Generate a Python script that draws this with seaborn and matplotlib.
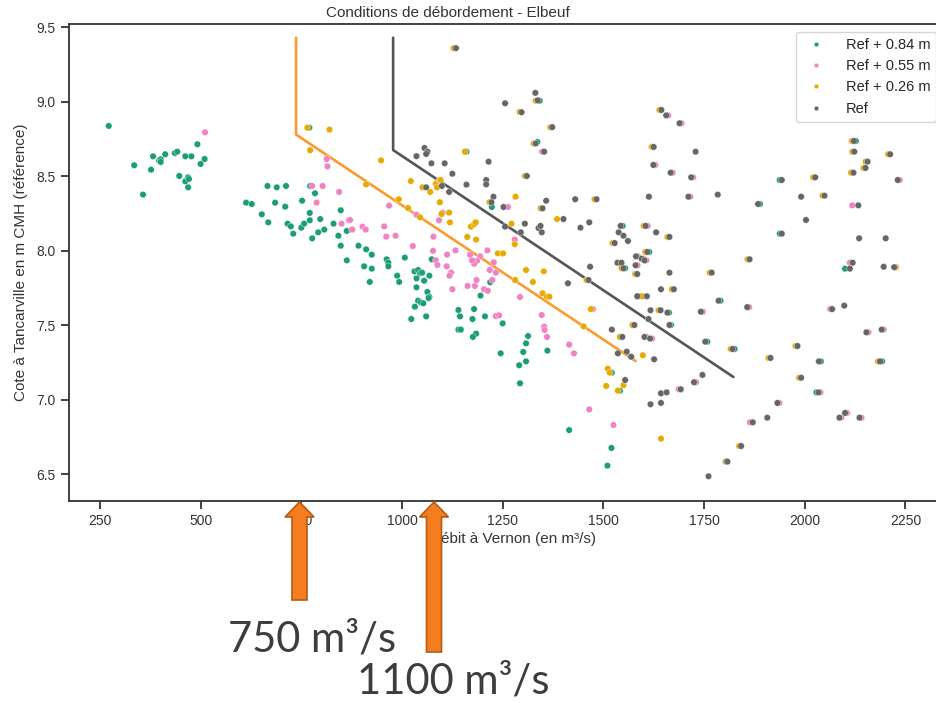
import matplotlib
matplotlib.use("Agg")
import matplotlib.pyplot as plt
from matplotlib.patches import Polygon
import numpy as np
import pandas as pd
import seaborn as sns

# ---------------- data ----------------
series_labels = ["Ref + 0.84 m", "Ref + 0.55 m", "Ref + 0.26 m", "Ref"]
series_colors = ["#1b9e77", "#f081c2", "#e6ab02", "#666666"]

q_ref = [1134, 1256, 1337, 1331, 1297, 1373, 1332, 1353, 1056, 1063, 1060, 1036, 1073, 1106, 1215,
         1125, 1310, 1060, 1099, 1117, 1209, 1209, 1160, 1227, 1222, 1252, 1358, 1349, 1430, 1483,
         1401, 1443, 1465, 1305, 1256, 1295, 1339, 1344, 1347, 1412, 1467, 1463, 1535, 1545, 1550,
         1584, 1580, 1581, 1595, 1602, 1609, 1664, 1643, 1675, 1584, 1608, 1617, 1642, 1659, 1612,
         1664, 1577, 1521, 1547, 1602, 1616, 1558, 1569, 1536, 1626, 1554, 1643, 1657, 1617, 1643,
         1692, 1725, 1746, 1753, 1742, 1786, 1806, 1761, 1769, 1863, 1644, 1656, 1689, 1625, 1729,
         1624, 1667, 1718, 1613, 1711, 1784, 1884, 1943, 2026, 1991, 2049, 2003, 1943, 2122, 2123,
         2156, 2151, 2121, 2212, 2231, 2133, 2135, 2201, 2119, 2112, 2196, 2222, 1543, 1538, 1550,
         1528, 1561, 1605, 1631, 1664, 1857, 2068, 2098, 2153, 2191, 1821, 1982, 1915, 2035, 2187,
         1991, 2034, 1932, 1871, 1907, 2086, 2100, 2136, 1842, 1808]
h_ref = [9.36, 8.99, 9.01, 9.06, 8.93, 8.83, 8.72, 8.665, 8.69, 8.665, 8.65, 8.635, 8.587, 8.587, 8.598,
         8.517, 8.502, 8.426, 8.435, 8.395, 8.475, 8.446, 8.444, 8.363, 8.326, 8.294, 8.336, 8.285, 8.346, 8.346,
         8.213, 8.155, 8.191, 8.182, 8.162, 8.124, 8.153, 8.167, 8.124, 7.782, 7.893, 7.804, 7.920, 7.920, 7.883,
         7.844, 7.903, 7.963, 7.947, 7.936, 7.992, 7.853, 7.742, 7.742, 7.695, 7.695, 7.601, 7.601, 7.585, 7.542,
         7.502, 7.502, 7.471, 7.422, 7.422, 7.411, 7.323, 7.289, 7.312, 7.272, 7.133, 7.044, 7.050, 6.970, 6.979,
         7.071, 7.118, 7.167, 7.390, 7.591, 7.665, 6.587, 6.487, 7.853, 7.943, 8.945, 8.909, 8.856, 8.697, 8.665,
         8.576, 8.524, 8.493, 8.363, 8.363, 8.377, 8.314, 8.475, 8.493, 8.363, 8.370, 8.207, 8.115, 8.737, 8.665,
         8.598, 8.556, 8.524, 8.648, 8.475, 8.305, 8.084, 8.084, 7.920, 7.880, 7.893, 7.890, 8.167, 8.124, 8.101,
         8.052, 8.066, 8.167, 8.124, 8.093, 7.622, 7.609, 7.632, 7.453, 7.471, 7.341, 7.361, 7.281, 7.258, 7.258,
         7.148, 7.050, 6.979, 6.849, 6.880, 6.880, 6.912, 6.880, 6.690, 6.585]

q_026 = [765, 820, 772, 948, 1022, 1051, 1084, 1093, 1096, 1087, 1070, 1094, 911, 992, 1015, 1045, 1098,
         1117, 1119, 1156, 1171, 1179, 1183, 1162, 1184, 1272, 1280, 1282, 1238, 1251, 1385, 1308, 1352,
         1325, 1281, 1349, 1360, 1366, 1469, 1451, 1511, 1516, 1507, 1536, 1550, 1598, 1643, 1541,
         1128, 1292, 1332, 1368, 1327, 1305, 1217, 1344, 1478, 1458, 1545, 1579, 1604, 1670, 1596, 1637,
         1572, 1764, 1858, 1639, 1620, 2021, 2044, 2117, 2118, 2151, 2146, 2115, 2207, 2226, 1523, 1600,
         1659, 1816, 1977, 1910, 2182, 1986, 1837, 1803]
h_026 = [8.826, 8.813, 8.675, 8.607, 8.468, 8.426, 8.450, 8.475, 8.475, 8.426, 8.395, 8.326, 8.446, 8.346,
         8.287, 8.225, 8.247, 8.256, 8.191, 8.665, 8.162, 8.178, 8.191, 8.093, 8.075, 8.182, 8.044, 8.363,
         7.983, 7.983, 8.213, 7.871, 7.862, 7.791, 7.804, 7.715, 7.692, 7.692, 7.609, 7.493, 7.209, 7.182,
         7.093, 7.061, 7.099, 7.299, 6.739, 7.422,
         9.36, 8.932, 9.007, 8.829, 8.72, 8.502, 8.326, 8.285, 8.346, 7.804, 7.883, 7.844, 7.992, 7.742,
         7.695, 7.601, 7.502, 7.853, 7.943, 8.945, 8.697, 8.493, 8.37, 8.737, 8.665, 8.598, 8.556, 8.524,
         8.648, 7.89, 8.052, 8.167, 8.093, 7.341, 7.361, 7.281, 7.258, 7.148, 6.690, 6.585]

q_055 = [511, 777, 803, 788, 844, 850, 868, 877, 813, 815, 968, 1036, 1101, 1092, 1263, 1280, 1212, 1194,
         1186, 1179, 1174, 1169, 1112, 1133, 1077, 1084, 1088, 1111, 1122, 1118, 1163, 1181, 1185, 1125,
         1204, 1213, 1218, 1224, 1228, 1233, 1027, 961, 984, 956, 902, 910, 871, 876, 1078, 1233, 1241,
         1293, 1347, 1353, 1354, 1360, 1415, 1427, 1465, 1525,
         1348, 1474, 1585, 1586, 1600, 1607, 1603, 1542, 1607, 1621, 1687, 1730, 1747, 1661, 1694, 1629,
         1672, 1723, 1716, 2236, 2118, 2112, 2227, 1610, 1862, 2063, 2158, 2196, 2039, 1937, 1864, 2091,
         2105, 2141]
h_055 = [8.795, 8.435, 8.435, 8.323, 8.395, 8.182, 8.205, 8.142, 8.616, 8.567, 8.303, 8.242, 8.256, 8.205,
         8.294, 8.075, 8.003, 7.963, 7.932, 7.913, 7.936, 7.974, 7.974, 8.003, 8.000, 7.936, 7.905, 7.896,
         7.853, 7.833, 7.764, 7.764, 7.804, 7.742, 7.742, 7.732, 7.871, 7.804, 7.923, 7.853, 8.032, 8.095,
         8.101, 8.164, 8.162, 8.142, 8.207, 8.142, 8.095, 7.562, 7.567, 7.690, 7.569, 7.491, 7.469, 7.422,
         7.370, 7.312, 6.936, 6.831,
         8.665, 7.609, 7.903, 7.963, 7.947, 7.936, 7.695, 7.422, 7.422, 7.411, 7.071, 7.118, 7.591, 8.909,
         8.856, 8.576, 8.524, 8.493, 8.363, 8.475, 8.305, 7.920, 7.89, 8.167, 7.622, 7.609, 7.453, 7.471,
         7.050, 6.979, 6.849, 6.880, 6.912, 6.880]

q_084 = [272, 335, 357, 377, 382, 397, 401, 401, 412, 436, 442, 447, 462, 477, 462, 469, 471, 469, 492,
         500, 510, 613, 627, 652, 666, 689, 712, 668, 685, 710, 716, 724, 730, 752, 750, 757, 771, 771,
         772, 784, 777, 792, 807, 797, 830, 842, 848, 848, 863, 863, 892, 770,
         911, 925, 906, 925, 920, 962, 966, 966, 988, 993, 1007, 1031, 1040, 1045, 1050, 1055, 1036, 1068,
         1036, 1063, 1068, 1066, 1040, 1047, 1053, 1032, 1023, 1060, 1140, 1144, 1179, 1175, 1206, 1140,
         1146, 1184, 1176, 1250, 1313, 1308, 1301, 1308, 1291, 1293, 1361, 1245, 1195, 1074, 1223, 1415,
         1520, 1510, 1219,
         1342, 1336, 1554, 1589, 1614, 1663, 1668, 1758, 1791, 1889, 1938, 1938, 2127, 2117, 2100, 1548,
         1826, 2040, 2192, 2029, 1692, 1541, 1521, 1160]
h_084 = [8.838, 8.574, 8.377, 8.544, 8.634, 8.605, 8.614, 8.596, 8.648, 8.656, 8.665, 8.502, 8.634, 8.634,
         8.466, 8.493, 8.482, 8.426, 8.715, 8.583, 8.616, 8.323, 8.314, 8.245, 8.435, 8.426, 8.435, 8.191,
         8.323, 8.296, 8.182, 8.164, 8.115, 8.336, 8.155, 8.182, 8.254, 8.205, 8.435, 8.386, 8.084, 8.124,
         8.142, 8.213, 8.182, 8.101, 8.272, 8.034, 8.133, 7.936, 8.034, 8.826,
         8.010, 7.974, 7.896, 7.880, 7.791, 7.943, 7.920, 7.896, 7.833, 7.791, 7.954, 7.862, 7.871, 7.849,
         7.853, 7.799, 7.815, 7.833, 7.755, 7.724, 7.690, 7.683, 7.665, 7.654, 7.648, 7.625, 7.542, 7.560,
         7.603, 7.560, 7.609, 7.542, 7.560, 7.471, 7.471, 7.444, 7.422, 7.513, 7.428, 7.379, 7.321, 7.258,
         7.232, 7.111, 7.330, 7.312, 7.699, 7.943, 8.294, 6.797, 6.677, 6.558, 7.789,
         9.007, 8.73, 7.883, 7.695, 7.992, 7.585, 7.502, 7.390, 7.665, 8.314, 8.475, 8.115, 8.737, 8.524,
         7.880, 8.167, 7.341, 7.258, 7.258, 7.050, 7.071, 7.061, 7.182, 8.665]

# threshold lines (discharge, level)
line_orange_q = [737, 737, 1580]
line_orange_h = [9.43, 8.78, 7.26]
line_gray_q = [978, 978, 1823]
line_gray_h = [9.43, 8.676, 7.153]

x_ticks = [250, 500, 750, 1000, 1250, 1500, 1750, 2000, 2250]
y_ticks = [6.5, 7.0, 7.5, 8.0, 8.5, 9.0, 9.5]

annot_texts = ["750 m³/s", "1100 m³/s"]

# ---------------- build frame ----------------
frames = []
for lab, q, h in zip(series_labels, [q_084, q_055, q_026, q_ref], [h_084, h_055, h_026, h_ref]):
    frames.append(pd.DataFrame({"Q": q, "H": h, "serie": lab}))
df = pd.concat(frames, ignore_index=True)

# ---------------- plot ----------------
sns.set_theme(style="ticks")
plt.rcParams["font.family"] = ["Liberation Sans", "DejaVu Sans"]
plt.rcParams["axes.edgecolor"] = "#333333"
plt.rcParams["axes.linewidth"] = 1.3

W, H = 937, 703
fig = plt.figure(figsize=(W / 100, H / 100), dpi=100)
ax_l, ax_r, ax_t, ax_b = 68.5, 957, 24, 500.7
ax = fig.add_axes([ax_l / W, 1 - ax_b / H, (ax_r - ax_l) / W, (ax_b - ax_t) / H])

sns.scatterplot(data=df, x="Q", y="H", hue="serie", hue_order=series_labels,
                palette=dict(zip(series_labels, series_colors)),
                s=22, edgecolor="white", linewidth=0.25, ax=ax, zorder=3)

ax.plot(line_orange_q, line_orange_h, color="#fd9a2e", lw=1.9, zorder=2)
ax.plot(line_gray_q, line_gray_h, color="#555555", lw=1.9, zorder=2)

ax.set_xlim(172, 2378)
ax.set_ylim(6.323, 9.522)
ax.set_xticks(x_ticks)
ax.set_yticks(y_ticks)
ax.set_yticklabels([f"{v:.1f}" for v in y_ticks])
ax.tick_params(axis="both", labelsize=10, length=6, width=1.3, colors="#333333")

ax.set_xlabel("Débit à Vernon (en m³/s)", fontsize=11, color="#333333", labelpad=3)
ax.set_ylabel("Cote à Tancarville en m CMH (référence)", fontsize=11, color="#333333", labelpad=6)
ax.set_title("Conditions de débordement - Elbeuf", fontsize=11, color="#333333",
             x=(448 - ax_l) / (ax_r - ax_l), pad=5)

leg = ax.legend(loc="upper right", bbox_to_anchor=(936 / W, 1 - 32 / H),
                bbox_transform=fig.transFigure, borderaxespad=0, fontsize=10.5,
                frameon=True, markerscale=0.7, handletextpad=1.0)
leg.get_frame().set_edgecolor("#cccccc")

# ---------------- annotation arrows ----------------
def arrow_poly(tx, ty, by, hw=14.5, hl=15, sw=7.5):
    pts = [(tx, ty), (tx + hw, ty + hl), (tx + sw, ty + hl), (tx + sw, by),
           (tx - sw, by), (tx - sw, ty + hl), (tx - hw, ty + hl)]
    return [(x / W, 1 - y / H) for x, y in pts]

for tx, by in [(299.5, 600), (434, 652)]:
    p = Polygon(arrow_poly(tx, 502, by), closed=True, facecolor="#f47d20",
                edgecolor="#b85a14", lw=1.2, transform=fig.transFigure, zorder=10)
    fig.add_artist(p)

fig.text(228 / W, 1 - 652 / H, annot_texts[0], fontsize=30, family="Lato",
         color="#3d3d3d", ha="left", va="baseline")
fig.text(357 / W, 1 - 693 / H, annot_texts[1], fontsize=30, family="Lato",
         color="#3d3d3d", ha="left", va="baseline")

fig.savefig("out.png", dpi=100)
